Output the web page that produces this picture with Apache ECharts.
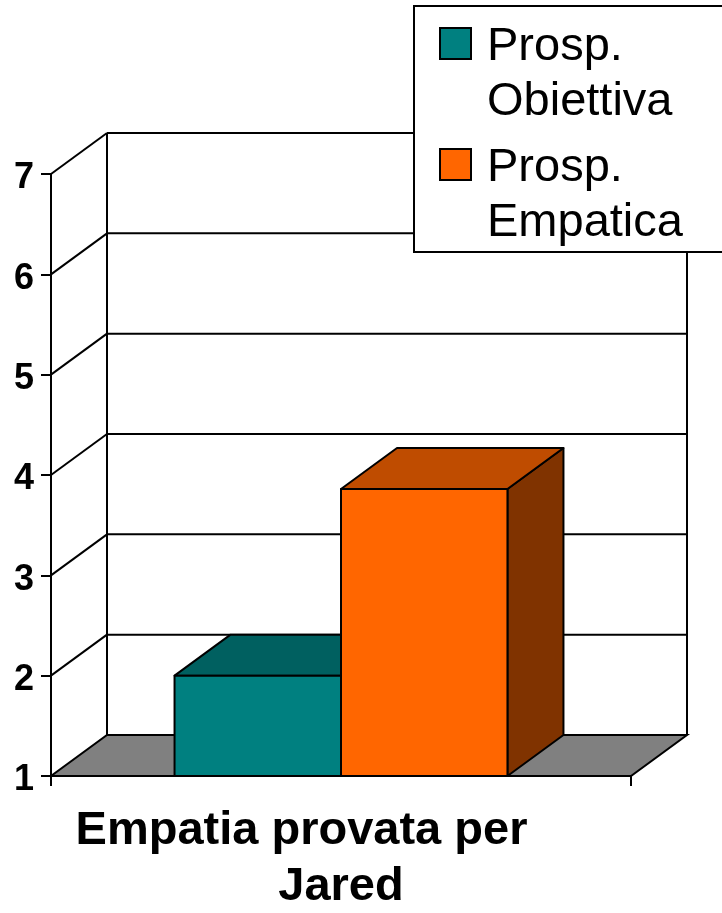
<!DOCTYPE html>
<html>
<head>
<meta charset="utf-8">
<script src="https://cdn.jsdelivr.net/npm/echarts@6/dist/echarts.min.js"></script>
<style>
  html, body { margin: 0; padding: 0; background: #ffffff; }
  #chart { width: 722px; height: 913px; }
</style>
</head>
<body>
<div id="chart"></div>
<script>
// Chart data
const categories = ['Empatia provata per\nJared'];
const seriesNames = ['Prosp. Obiettiva', 'Prosp. Empatica'];
const obiettivaValues = [2.0];
const empaticaValues = [3.86];
const yTicks = [1, 2, 3, 4, 5, 6, 7];

// Styling
const FONT = '"Liberation Sans", Arial, Helvetica, sans-serif';
const DX = 56, DY = -41;          // depth offset of the 3D box
const BAR_FRACTION = 0.287;       // width of one bar relative to the category band
const LINE_W = 2;
const faceColors = [
  { front: '#008080', top: '#006060', side: '#004040' },
  { front: '#FF6600', top: '#BF4C00', side: '#803300' }
];

// Floor, back wall and side-wall grid of the 3D box
function renderFrame(params, api) {
  const base = api.coord([0, yTicks[0]]);
  const bandW = api.size([1, 0])[0];
  const x0 = base[0] - bandW / 2, x1 = base[0] + bandW / 2;
  const yb = base[1];
  const yTop = api.coord([0, yTicks[yTicks.length - 1]])[1];
  const line = (ax, ay, bx, by) => ({
    type: 'line',
    shape: { x1: ax, y1: ay, x2: bx, y2: by },
    style: { stroke: '#000', lineWidth: LINE_W }
  });
  const children = [];
  children.push({
    type: 'polygon',
    shape: { points: [[x0, yb], [x1, yb], [x1 + DX, yb + DY], [x0 + DX, yb + DY]] },
    style: { fill: '#808080', stroke: '#000', lineWidth: LINE_W }
  });
  // back wall verticals
  children.push(line(x0 + DX, yTop + DY, x0 + DX, yb + DY));
  children.push(line(x1 + DX, yTop + DY, x1 + DX, yb + DY));
  // gridlines on the back wall and on the left wall
  yTicks.slice(1).forEach(v => {
    const y = api.coord([0, v])[1];
    children.push(line(x0 + DX, y + DY, x1 + DX, y + DY));
    children.push(line(x0, y, x0 + DX, y + DY));
  });
  return { type: 'group', children };
}

// One 3D bar: front face, top face, right side face
function makeBarRenderer(slot) {
  const col = faceColors[slot];
  return function (params, api) {
    const top = api.coord([api.value(0), api.value(1)]);
    const base = api.coord([api.value(0), yTicks[0]]);
    const bandW = api.size([1, 0])[0];
    const w = bandW * BAR_FRACTION;
    const xl = top[0] - w + slot * w;
    const xr = xl + w;
    const yt = top[1], yb = base[1];
    const stroke = { stroke: '#000', lineWidth: LINE_W, lineJoin: 'round' };
    return {
      type: 'group',
      children: [
        { type: 'polygon', shape: { points: [[xr, yt], [xr + DX, yt + DY], [xr + DX, yb + DY], [xr, yb]] },
          style: Object.assign({ fill: col.side }, stroke) },
        { type: 'polygon', shape: { points: [[xl, yt], [xr, yt], [xr + DX, yt + DY], [xl + DX, yt + DY]] },
          style: Object.assign({ fill: col.top }, stroke) },
        { type: 'rect', shape: { x: xl, y: yt, width: w, height: yb - yt },
          style: Object.assign({ fill: col.front }, stroke) }
      ]
    };
  };
}

const seriesValues = [obiettivaValues, empaticaValues];

const chart = echarts.init(document.getElementById('chart'), null, { renderer: 'canvas' });

// Legend box drawn as graphic elements (swatch + wrapped name)
const legendItems = [];
seriesNames.forEach((name, i) => {
  const rowTop = 28 + i * 121;
  legendItems.push({
    type: 'rect',
    shape: { x: 440, y: rowTop, width: 31, height: 31 },
    style: { fill: faceColors[i].front, stroke: '#000', lineWidth: LINE_W },
    z: 101
  });
  legendItems.push({
    type: 'text',
    x: 487, y: rowTop - 8,
    style: {
      text: name.replace(' ', '\n'),
      fontFamily: FONT, fontSize: 47, lineHeight: 55,
      fill: '#000', verticalAlign: 'top', align: 'left'
    },
    z: 101
  });
});

chart.setOption({
  animation: false,
  backgroundColor: '#ffffff',
  grid: { left: 51, right: 91, top: 174, bottom: 137, containLabel: false },
  xAxis: {
    type: 'category',
    data: categories,
    boundaryGap: true,
    axisLine: { show: true, lineStyle: { color: '#000', width: LINE_W } },
    axisTick: { show: true, length: 10, lineStyle: { color: '#000', width: LINE_W } },
    splitLine: { show: false },
    axisLabel: {
      margin: 27,
      interval: 0,
      formatter: v => {
        const parts = v.split('\n');
        return '{a|' + parts[0] + '}\n{b|' + parts[1] + '}';
      },
      rich: {
        a: { fontFamily: FONT, fontSize: 47, fontWeight: 'bold', color: '#000', lineHeight: 56, padding: [0, 79, 0, 0] },
        b: { fontFamily: FONT, fontSize: 47, fontWeight: 'bold', color: '#000', lineHeight: 56 }
      }
    }
  },
  yAxis: {
    type: 'value',
    min: yTicks[0],
    max: yTicks[yTicks.length - 1],
    interval: 1,
    axisLine: { show: true, lineStyle: { color: '#000', width: LINE_W } },
    axisTick: { show: true, length: 10, lineStyle: { color: '#000', width: LINE_W } },
    splitLine: { show: false },
    axisLabel: {
      margin: 17,
      formatter: v => '{v|' + v + '}',
      rich: {
        v: { fontFamily: FONT, fontSize: 36, fontWeight: 'bold', color: '#000', lineHeight: 40, padding: [9, 0, 0, 0] }
      }
    }
  },
  graphic: [
    {
      type: 'rect',
      shape: { x: 414, y: 6, width: 340, height: 246 },
      style: { fill: '#fff', stroke: '#000', lineWidth: LINE_W },
      z: 100
    }
  ].concat(legendItems),
  series: [
    {
      type: 'custom',
      name: 'frame',
      renderItem: renderFrame,
      data: [[0, yTicks[0]]],
      encode: { x: 0, y: 1 },
      z: 1,
      silent: true
    }
  ].concat(seriesNames.map((name, i) => ({
    type: 'custom',
    name: name,
    renderItem: makeBarRenderer(i),
    data: categories.map((c, k) => [k, seriesValues[i][k]]),
    encode: { x: 0, y: 1 },
    z: 2 + i
  })))
});
</script>
</body>
</html>
